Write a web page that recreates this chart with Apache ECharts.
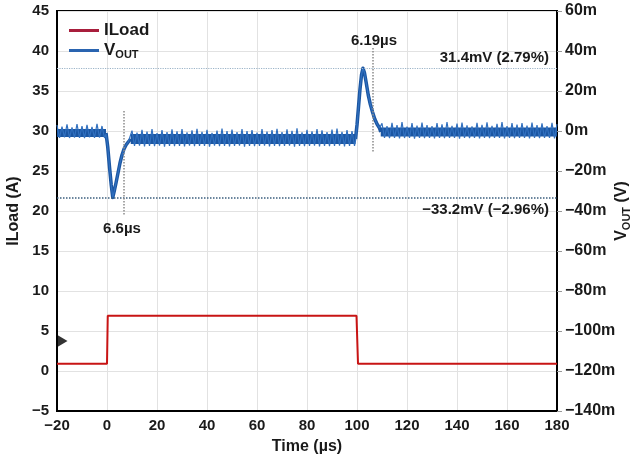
<!DOCTYPE html>
<html><head><meta charset="utf-8">
<script src="https://cdn.jsdelivr.net/npm/echarts@6/dist/echarts.min.js"></script>
<style>html,body{margin:0;padding:0;background:#fff;overflow:hidden}#c{width:638px;height:461px}</style>
</head><body><div id="c"></div>
<script>
// ---------- data ----------
const FONT = "'Liberation Sans', Arial, sans-serif";
const timeAxis = { min: -20, max: 180, interval: 20 };
const iloadAxis = { min: -5, max: 45, interval: 5 };
const voutAxis = { min: -140, max: 60, interval: 20 }; // mV

// ILoad step (A)
const iLoad = [[-20, 0.9], [0, 0.9], [0.3, 6.9], [99.8, 6.9], [100.4, 0.9], [180, 0.9]];

// VOUT ripple samples (mV), one per microsecond
const rippleA_start = -20;
const rippleA = [3.0,-3.4,2.2,-3.2,3.3,-3.5,1.8,-3.3,3.5,-3.4,2.4,-3.6,3.1,-3.2,2.0,-3.4,3.6,-3.3,2.5,-3.5];
const transient1 = [[-0.4,-1.5],[0.3,-8],[1.0,-18],[1.7,-27],[2.3,-33.2],[2.9,-30],[3.6,-26],[4.4,-21],[5.2,-16],[6.0,-12],[6.8,-9],[7.6,-7],[8.5,-5.5],[9.3,-4.5]];
const rippleB_start = 10;
const rippleB = [0.2,-7.5,-0.8,-7.3,0.6,-7.7,-0.3,-7.4,1.0,-7.6,-1.0,-7.3,0.4,-7.8,-0.5,-7.4,0.8,-7.6,-0.2,-7.5,
 0.9,-7.7,-0.7,-7.3,0.3,-7.6,1.1,-7.4,-0.4,-7.5,0.6,-7.8,-0.9,-7.3,0.2,-7.6,1.2,-7.4,-0.1,-7.7,
 0.7,-7.5,-0.6,-7.3,1.0,-7.8,0.0,-7.4,0.5,-7.6,-0.8,-7.5,0.9,-7.3,-0.3,-7.7,0.4,-7.4,1.1,-7.6,
 -0.5,-7.5,0.8,-7.3,0.1,-7.8,1.3,-7.4,-0.7,-7.6,0.6,-7.5,-0.2,-7.3,1.0,-7.7,0.3,-7.4,-0.6,-7.6,
 0.7,-7.5,1.2,-7.3,-0.4,-7.7,0.5,-7.4,0.0,-7.5];
const transient2 = [[99.4,-5],[100.0,3],[100.6,12],[101.2,21],[101.8,28],[102.4,31.4],[103.0,29],[103.7,24],[104.5,18],[105.3,13.5],[106.2,9.5],[107.1,6],[108.0,3.5],[109.0,1.5]];
const rippleC_start = 110;
const rippleC = [3.8,-3.5,2.4,-3.6,4.1,-3.4,2.9,-3.7,4.4,-3.5,2.2,-3.4,3.9,-3.8,2.7,-3.5,4.2,-3.6,3.0,-3.4,
 2.5,-3.7,4.0,-3.5,3.3,-3.6,4.5,-3.4,2.6,-3.5,3.7,-3.8,4.2,-3.5,2.8,-3.6,2.3,-3.4,4.1,-3.7,
 3.1,-3.5,4.3,-3.6,2.6,-3.4,3.6,-3.5,4.4,-3.7,2.5,-3.4,3.9,-3.6,3.2,-3.5,4.0,-3.4,2.7,-3.7,
 4.2,-3.5,3.0,-3.6,3.8,-3.4,2.4,-3.5,4.1,-3.7,3.4];
const RIPPLE_STEP = 1;

// VOUT solid band centres (mV)
const bandA = [[-20,-1],[-0.4,-1]];
const bandB = [[9.5,-4],[99.4,-4]];
const bandC = [[109.5,-0.5],[180,-0.5]];

// annotation values
const overshootMv = 31.4;
const undershootMv = -33.2;
const settle1 = { t: 6.6, from: 10, to: -42.5 };
const settle2 = { t: 106.19, from: 41.5, to: -11 };
const groundMarker = [-20, 3.75];
const annotations = ['6.6\u00b5s', '6.19\u00b5s', '31.4mV (2.79%)', '\u221233.2mV (\u22122.96%)'];

// ---------- build ----------
const toPairs = (start, arr) => arr.map((v, i) => [start + i * RIPPLE_STEP, v]);
const rippleData = [].concat(toPairs(rippleA_start, rippleA), transient1, toPairs(rippleB_start, rippleB), transient2, toPairs(rippleC_start, rippleC));
const transientData = [].concat([bandA[1]], transient1, [bandB[0]], [null], [bandB[1]], transient2, [bandC[0]]);
const minus = s => String(s).replace('-', '\u2212');

const BLUE = '#1b56a2';
const RED = '#c81414';
const lbl = { fontFamily: FONT, fontWeight: 'bold', fontSize: 15, color: '#1a1a1a' };
const TF = "bold 15px 'Liberation Sans', Arial, sans-serif";

const bandSeries = (data, width) => ({
  name: 'VOUT', type: 'line', yAxisIndex: 1, data: data, showSymbol: false, silent: true,
  lineStyle: { color: BLUE, width: width, cap: 'butt' }, itemStyle: { color: BLUE }, z: 3
});
const txt = (s, x, y, align) => ({
  type: 'text', x: x, y: y, z: 100,
  style: { text: s, font: TF, fill: '#1a1a1a', align: align, verticalAlign: 'middle' }
});

const chart = echarts.init(document.getElementById('c'), null, { renderer: 'canvas' });
chart.setOption({
  animation: false,
  backgroundColor: '#fff',
  grid: { left: 57, right: 81, top: 11, bottom: 50, show: true, borderColor: '#000', borderWidth: 2, containLabel: false, outerBoundsMode: 'none' },
  legend: {
    orient: 'vertical', left: 64, top: 17, icon: 'rect', itemWidth: 30, itemHeight: 3, itemGap: 3,
    data: [{ name: 'ILoad', itemStyle: { color: '#a81e3c' } }, { name: 'VOUT', itemStyle: { color: '#2a64b0' } }],
    formatter: n => n === 'VOUT' ? '{v|V}{s|OUT}' : '{v|ILoad}',
    textStyle: {
      fontFamily: FONT, fontWeight: 'bold', fontSize: 16, color: '#1a1a1a',
      rich: {
        v: { fontFamily: FONT, fontWeight: 'bold', fontSize: 17, lineHeight: 20, color: '#1a1a1a' },
        s: { fontFamily: FONT, fontWeight: 'bold', fontSize: 11, lineHeight: 9, verticalAlign: 'bottom', color: '#1a1a1a' }
      }
    }
  },
  xAxis: {
    type: 'value', min: timeAxis.min, max: timeAxis.max, interval: timeAxis.interval,
    name: 'Time (\u00b5s)', nameLocation: 'middle', nameGap: 28, nameMoveOverlap: false,
    nameTextStyle: Object.assign({}, lbl, { fontSize: 16 }),
    axisLine: { onZero: false, lineStyle: { color: '#000', width: 2 } },
    axisTick: { show: false },
    axisLabel: Object.assign({}, lbl, { margin: 7, formatter: minus }),
    splitLine: { lineStyle: { color: '#e2e2e2', width: 1 } }
  },
  yAxis: [{
    type: 'value', min: iloadAxis.min, max: iloadAxis.max, interval: iloadAxis.interval,
    name: 'ILoad (A)', nameLocation: 'middle', nameGap: 35, nameMoveOverlap: false,
    nameTextStyle: Object.assign({}, lbl, { fontSize: 16 }),
    axisLine: { show: true, onZero: false, lineStyle: { color: '#000', width: 2 } },
    axisTick: { show: false },
    axisLabel: Object.assign({}, lbl, { margin: 8, formatter: minus }),
    splitLine: { lineStyle: { color: '#e2e2e2', width: 1 } }
  }, {
    type: 'value', position: 'right', min: voutAxis.min, max: voutAxis.max, interval: voutAxis.interval,
    name: '{v|V}{s|OUT}{v| (V)}', nameLocation: 'middle', nameGap: 55, nameRotate: 90, nameMoveOverlap: false,
    nameTextStyle: {
      rich: {
        v: { fontFamily: FONT, fontWeight: 'bold', fontSize: 16, lineHeight: 20, color: '#1a1a1a' },
        s: { fontFamily: FONT, fontWeight: 'bold', fontSize: 11, lineHeight: 9, verticalAlign: 'bottom', color: '#1a1a1a' }
      }
    },
    axisLine: { show: true, onZero: false, lineStyle: { color: '#000', width: 2 } },
    axisTick: { show: true, length: 5, lineStyle: { color: '#999' } },
    axisLabel: Object.assign({}, lbl, { fontSize: 16, margin: 8, formatter: v => minus(v) + 'm' }),
    splitLine: { show: false }
  }],
  series: [
    Object.assign(bandSeries(bandA, 8), {
      markLine: {
        silent: true, symbol: 'none', label: { show: false },
        data: [
          { yAxis: overshootMv, lineStyle: { color: '#9cb4c8', type: 'dotted', width: 1.2 } },
          { yAxis: undershootMv, lineStyle: { color: '#3b5f7e', type: 'dotted', width: 1.5 } },
          [{ coord: [settle1.t, settle1.from] }, { coord: [settle1.t, settle1.to], lineStyle: { color: '#8a8a8a', type: 'dotted', width: 1.5 } }],
          [{ coord: [settle2.t, settle2.from] }, { coord: [settle2.t, settle2.to], lineStyle: { color: '#8a8a8a', type: 'dotted', width: 1.5 } }]
        ]
      }
    }),
    bandSeries(bandB, 10),
    bandSeries(bandC, 9),
    {
      name: 'VOUT', type: 'line', yAxisIndex: 1, data: transientData, showSymbol: false, silent: true, connectNulls: false,
      lineStyle: { color: BLUE, width: 3.5, join: 'round' }, itemStyle: { color: BLUE }, z: 3
    },
    {
      name: 'VOUT', type: 'line', yAxisIndex: 1, data: rippleData, showSymbol: false, silent: true,
      lineStyle: { color: '#3170bf', width: 1.2 }, itemStyle: { color: BLUE }, z: 4
    },
    {
      name: 'ILoad', type: 'line', yAxisIndex: 0, data: iLoad, showSymbol: false, silent: true,
      lineStyle: { color: RED, width: 2 }, itemStyle: { color: RED }, z: 5
    },
    {
      name: 'marker', type: 'scatter', yAxisIndex: 0, data: [groundMarker], symbol: 'triangle',
      symbolRotate: -90, symbolSize: [13, 11], symbolOffset: [5, 0], clip: false, silent: true,
      itemStyle: { color: '#000' }, z: 6
    }
  ],
  graphic: [
    txt(annotations[0], 122, 229, 'center'),
    txt(annotations[1], 374, 41, 'center'),
    txt(annotations[2], 549, 58, 'right'),
    txt(annotations[3], 549, 210, 'right')
  ]
});
</script></body></html>
